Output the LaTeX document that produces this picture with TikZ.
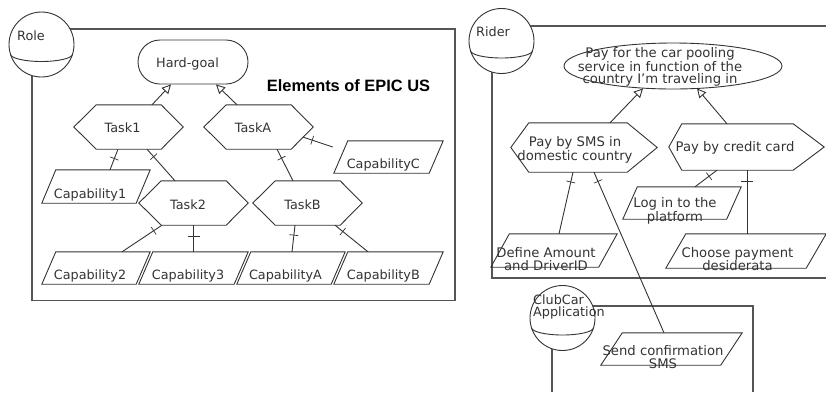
\documentclass[tikz,border=0pt]{standalone}
\usepackage{fontspec}
\setmainfont{DejaVu Sans}
\newfontfamily\titlefont{Liberation Sans}
\usetikzlibrary{arrows.meta,calc,decorations.markings,shapes.geometric}
\definecolor{ink}{HTML}{333333}
\definecolor{bnd}{HTML}{555555}
\newcommand\hexpath[3]{\draw[outline] (#1.west) -- ($(#1.north west)+(#2,0)$) -- ($(#1.north east)+(-#3,0)$) -- (#1.east) -- ($(#1.south east)+(-#3,0)$) -- ($(#1.south west)+(#2,0)$) -- cycle;}
\newcommand\parapath[2]{\draw[outline] (#1.south west) -- ($(#1.north west)+(#2,0)$) -- (#1.north east) -- ($(#1.south east)+(-#2,0)$) -- cycle;}
\newcommand\actorarc[1]{\draw[outline] ($(#1.center)+(-31.1,9.5)$) arc[start angle=180,end angle=360,x radius=31.1pt,y radius=7.5pt];}
\begin{document}
\begin{tikzpicture}[x=1pt,y=-1pt,
  frame/.style 2 args={rectangle,draw=none,inner sep=0pt,minimum width=#1pt,minimum height=#2pt},
  outline/.style={draw=ink,line width=0.9pt,line join=miter},
  txt/.style={text=ink,font=\fontsize{12.8}{12.5}\selectfont,inner sep=0pt,align=center},
  rtxt/.style={txt,font=\fontsize{13.2}{12.5}\selectfont},
  boundary/.style={draw=bnd,line width=1.2pt},
  actor/.style={circle,draw=ink,fill=white,line width=0.9pt,minimum size=65pt,inner sep=0pt},
  goalbox/.style={rectangle,rounded corners=22pt,draw=ink,line width=0.9pt,minimum width=110pt,minimum height=44pt,inner sep=0pt},
  link/.style={draw=ink,line width=0.9pt},
  meansend/.style={link,-{Triangle[open,length=9pt,width=9pt]}},
  decomp/.style={link,postaction={decorate},decoration={markings,mark=at position 10pt with {\draw[ink,line width=0.7pt] (0pt,-4.5pt) -- (0pt,4.5pt);}}},
  decompbar/.style={link,postaction={decorate},decoration={markings,mark=at position 11pt with {\draw[ink,line width=1pt] (0pt,-6pt) -- (0pt,6pt);}}}
]
\useasboundingbox (0,0) rectangle (826,392);

% ---------- boundaries ----------
\draw[boundary] (32,29) rectangle (455,300.5);
\draw[boundary] (826,26) -- (492,26) -- (492,278) -- (826,278);
\draw[boundary] (552,392) -- (552,306) -- (753,306) -- (753,392);

% ---------- actors ----------
\node[actor] (role) at (41.5,44.5) {};
\actorarc{role}
\node[txt,anchor=base west] (roleL) at (17,40.7) {Role};

\node[actor] (rider) at (501.5,41) {};
\actorarc{rider}
\node[txt,anchor=base west] (riderL) at (476,36.7) {Rider};

\node[actor] (club) at (562.5,318) {};
\actorarc{club}
\node[txt,align=left,anchor=west] (clubL) at (533,307) {ClubCar\\Application};

% ---------- left diagram ----------
\node[goalbox] (hg) at (193,62) {};
\node[txt,anchor=base] (hgL) at (187.5,67) {Hard-goal};

\node[anchor=base,text=black,font=\titlefont\bfseries\fontsize{16.4}{18}\selectfont,inner sep=0pt] (title) at (348.5,91.7) {Elements of EPIC US};

\node[frame={109}{44}] (t1) at (128.5,127) {}; \hexpath{t1}{22.5}{22}
\node[frame={109}{44}] (tA) at (258.5,127) {}; \hexpath{tA}{22.5}{22}
\node[frame={109}{44}] (t2) at (193.5,203) {}; \hexpath{t2}{22.5}{22}
\node[frame={109}{44}] (tB) at (307.5,203) {}; \hexpath{tB}{22.5}{22}
\node[txt,anchor=base] (t1L) at (122.5,132.7) {Task1};
\node[txt,anchor=base] (tAL) at (253,132.7) {TaskA};
\node[txt,anchor=base] (t2L) at (188,209.3) {Task2};
\node[txt,anchor=base] (tBL) at (302.5,209.3) {TaskB};

\node[frame={108}{33}] (c1) at (96,186.5) {}; \parapath{c1}{14}
\node[frame={109}{32}] (cC) at (388.5,157) {}; \parapath{cC}{14}
\node[frame={108}{32}] (c2) at (96,268) {}; \parapath{c2}{14}
\node[frame={109}{32}] (c3) at (193.5,268) {}; \parapath{c3}{14}
\node[frame={108}{32}] (cA) at (291,268) {}; \parapath{cA}{14}
\node[frame={109}{32}] (cB) at (388.5,268) {}; \parapath{cB}{14}
\node[txt,anchor=base] (c1L) at (90,198.3) {Capability1};
\node[txt,anchor=base] (cCL) at (383.3,168.3) {CapabilityC};
\node[txt,anchor=base] (c2L) at (90,279) {Capability2};
\node[txt,anchor=base] (c3L) at (188,279) {Capability3};
\node[txt,anchor=base] (cAL) at (285.5,279) {CapabilityA};
\node[txt,anchor=base] (cBL) at (383.3,279) {CapabilityB};

\draw[meansend] ($(t1.north)+(23.5,0)$) -- ($(hg.south)+(-22,0)$);
\draw[meansend] ($(tA.north)+(-21.5,0)$) -- ($(hg.south)+(23,0)$);
\draw[decomp] ($(t1.south)+(-10.5,0)$) -- ($(c1.north)+(14,0)$);
\draw[decomp] ($(t1.south)+(18.5,0)$) -- ($(t2.north)+(-18.5,0)$);
\draw[decomp] ($(tA.south)+(18.5,0)$) -- ($(tB.north)+(-14.5,0)$);
\draw[decomp] ($(tA.east)+(-10.5,10)$) -- ($(cC.west)+(-1,-10)$);
\draw[decomp] ($(t2.south)+(-31.5,0)$) -- ($(c2.north)+(26,0)$);
\draw[decompbar] (t2.south) -- (c3.north);
\draw[decomp] ($(tB.south)+(-12.5,0)$) -- ($(cA.north)+(1,0)$);
\draw[decomp] ($(tB.south)+(27.5,0)$) -- ($(cB.north)+(-20.5,0)$);

% ---------- right diagram ----------
\node[ellipse,draw=ink,line width=0.9pt,minimum width=218pt,minimum height=46pt,inner sep=0pt] (goal) at (673,66) {};
\node[rtxt] (goalL) at (660,67) {Pay for the car pooling\\service in function of the\\country I’m traveling in};

\node[frame={146}{49}] (sms) at (584,147.5) {}; \hexpath{sms}{18}{30}
\node[frame={155}{46}] (cc) at (746.5,147) {}; \hexpath{cc}{13}{31}
\node[rtxt] (smsL) at (575,150) {Pay by SMS in\\domestic country};
\node[rtxt,anchor=base] (ccL) at (735,151.7) {Pay by credit card};

\node[frame={118}{32}] (log) at (682,203) {}; \parapath{log}{14.5}
\node[frame={126}{33}] (def) at (554,250.5) {}; \parapath{def}{18.5}
\node[frame={160}{34}] (cho) at (746,251) {}; \parapath{cho}{20}
\node[frame={141}{32}] (send) at (671.5,349) {}; \parapath{send}{21.5}
\node[rtxt] (logL) at (675,210.5) {Log in to the\\platform};
\node[rtxt] (defL) at (546,259) {Define Amount\\and DriverID};
\node[rtxt] (choL) at (737.5,259) {Choose payment\\desiderata};
\node[rtxt] (sendL) at (663,357) {Send confirmation\\SMS};

\draw[meansend] ($(sms.north)+(26,0)$) -- ($(goal.south)+(-30,-1)$);
\draw[meansend] ($(cc.north)+(-19.5,0)$) -- ($(goal.south)+(24,-1)$);
\draw[decomp] ($(sms.south)+(-11,0)$) -- ($(def.north)+(5,0)$);
\draw[decomp] ($(sms.south)+(10,0)$) -- ($(send.north)+(-7.5,0)$);
\draw[decomp] ($(cc.south)+(-29.5,0)$) -- ($(log.north)+(13,0)$);
\draw[decompbar] ($(cc.south)+(0.5,0)$) -- ($(cho.north)+(1,0)$);
\end{tikzpicture}
\end{document}
